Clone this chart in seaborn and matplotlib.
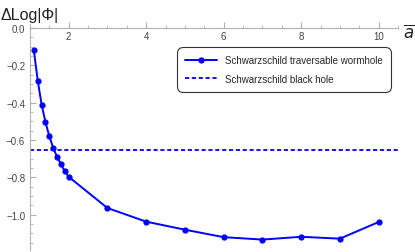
import numpy as np
import pandas as pd
import seaborn as sns
import matplotlib.pyplot as plt
from matplotlib.ticker import MultipleLocator, FuncFormatter

# dane
a_bar = [1.1, 1.2, 1.3, 1.4, 1.5, 1.6, 1.7, 1.8, 1.9, 2.0, 3, 4, 5, 6, 7, 8, 9, 10]
dlog_wormhole = [-0.12, -0.282, -0.41, -0.505, -0.58, -0.643, -0.69, -0.73, -0.768,
                 -0.797, -0.964, -1.037, -1.08, -1.12, -1.133, -1.118, -1.128, -1.039]
dlog_blackhole = -0.652

sns.set_style("white")
plt.rcParams['font.family'] = ['Liberation Sans', 'DejaVu Sans']
plt.rcParams['mathtext.fontset'] = 'dejavusans'

dane = pd.DataFrame({"a": a_bar, "dlog": dlog_wormhole})

fig = plt.figure(figsize=(4.15, 2.53), dpi=100)
ax = fig.add_axes([30 / 415, 0.007, 368 / 415, 0.893])

blue = (0, 0, 1)
sns.lineplot(data=dane, x="a", y="dlog", ax=ax, color=blue, marker="o",
             markersize=4.5, markeredgewidth=0, linewidth=1.4,
             label="Schwarzschild traversable wormhole")
ax.axhline(dlog_blackhole, color=blue, linestyle=(0, (2.3, 1.5)), linewidth=1.3,
           label="Schwarzschild black hole")

ax.set_xlim(1.0, 10.5)
ax.set_ylim(-1.19, 0.02)

# osie w stylu Mathematica
for s in ["top", "right"]:
    ax.spines[s].set_visible(False)
ax.spines["bottom"].set_position(("data", 0))
for s in ["left", "bottom"]:
    ax.spines[s].set_color("#b0b0b0")
    ax.spines[s].set_linewidth(0.8)

ax.xaxis.set_major_locator(MultipleLocator(2))
ax.xaxis.set_minor_locator(MultipleLocator(0.5))
ax.yaxis.set_major_locator(MultipleLocator(0.2))
ax.yaxis.set_minor_locator(MultipleLocator(0.05))
ax.xaxis.set_major_formatter(FuncFormatter(lambda v, p: "" if v < 1.5 else f"{v:.0f}"))
ax.yaxis.set_major_formatter(FuncFormatter(
    lambda v, p: f"{v:.1f}".replace("-", "\u2212") if abs(v) > 1e-9 else "0.0"))

ax.tick_params(axis="both", which="both", direction="in", color="#b0b0b0",
               labelsize=7, labelcolor="#444444", bottom=True, left=True)
ax.tick_params(axis="both", which="major", length=4, width=0.8)
ax.tick_params(axis="both", which="minor", length=2.5, width=0.6)
ax.tick_params(axis="x", pad=2)

ax.set_xlabel("")
ax.set_ylabel("")
fig.text(0.002, 0.94, "\u0394Log|\u03a6|", fontsize=11.5, ha="left", va="center",
         color="#222222")
fig.text(0.985, 0.875, r"$\overline{a}$", fontsize=12, ha="center", va="center",
         color="#222222")

leg = ax.legend(loc="upper right", bbox_to_anchor=(391 / 415, 1 - 48 / 253),
                bbox_transform=fig.transFigure, fontsize=7, frameon=True,
                fancybox=True, edgecolor="black", handlelength=3.3,
                borderpad=0.85, labelspacing=0.85, borderaxespad=0)
leg.get_frame().set_linewidth(0.8)
leg.get_frame().set_boxstyle("round", pad=0, rounding_size=0.6)

plt.savefig("out.png", dpi=100)
